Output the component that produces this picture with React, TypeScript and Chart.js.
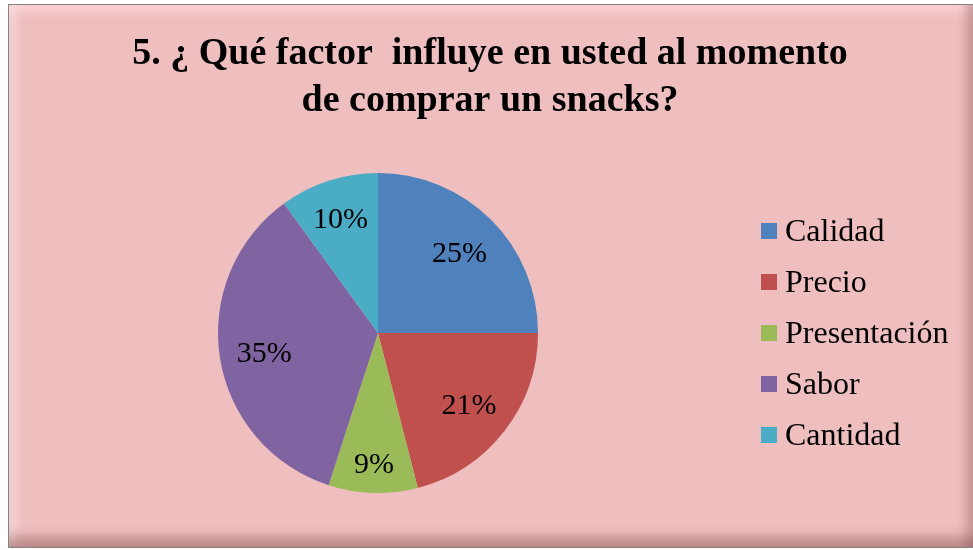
import React, { useEffect, useRef } from "react";
import { Chart, registerables } from "chart.js";

Chart.register(...registerables);

const titleLines = ["5. ¿ Qué factor  influye en usted al momento", "de comprar un snacks?"];
const categories = ["Calidad", "Precio", "Presentación", "Sabor", "Cantidad"];
const percentages = [25, 21, 9, 35, 10];
const sliceColors = ["#4F81BD", "#C0504D", "#9BBB59", "#8064A2", "#4BACC6"];

const FONT = "'Liberation Serif', 'Times New Roman', serif";

const overlayPlugin = {
  id: "overlay",
  afterDraw(chart: any) {
    const ctx = chart.ctx;
    ctx.save();
    // Title
    ctx.fillStyle = "#000";
    ctx.textAlign = "center";
    ctx.textBaseline = "middle";
    ctx.font = `bold 38px ${FONT}`;
    titleLines.forEach((line, i) => ctx.fillText(line, 490, 54 + i * 47));

    // Data labels
    const meta = chart.getDatasetMeta(0);
    ctx.font = `30px ${FONT}`;
    meta.data.forEach((arc: any, i: number) => {
      const { x, y, startAngle, endAngle, outerRadius } = arc.getProps(
        ["x", "y", "startAngle", "endAngle", "outerRadius"],
        true
      );
      const mid = (startAngle + endAngle) / 2;
      const frac = (endAngle - startAngle) / (2 * Math.PI);
      const f = frac < 0.095 ? 0.81 : frac < 0.12 ? 0.76 : 0.72;
      const r = outerRadius * f;
      ctx.fillText(percentages[i] + "%", x + Math.cos(mid) * r, y + Math.sin(mid) * r + 3);
    });

    // Legend
    ctx.textAlign = "left";
    ctx.font = `32px ${FONT}`;
    categories.forEach((c, i) => {
      const cy = 231 + i * 51;
      ctx.fillStyle = sliceColors[i];
      ctx.fillRect(761, cy - 8, 16, 16);
      ctx.fillStyle = "#000";
      ctx.fillText(c, 785, cy + 2);
    });
    ctx.restore();
  },
};

export default function App() {
  const ref = useRef<HTMLCanvasElement | null>(null);
  useEffect(() => {
    if (!ref.current) return;
    const chart = new Chart(ref.current, {
      type: "pie",
      data: {
        labels: categories,
        datasets: [
          {
            data: percentages,
            backgroundColor: sliceColors,
            borderWidth: 0,
          },
        ],
      },
      options: {
        responsive: false,
        animation: false,
        layout: { padding: { left: 218, right: 435, top: 173, bottom: 57 } },
        plugins: {
          legend: { display: false },
          title: { display: false },
          tooltip: { enabled: false },
        },
      },
      plugins: [overlayPlugin],
    });
    return () => chart.destroy();
  }, []);

  return (
    <div style={{ position: "fixed", left: 0, top: 0, width: 973, height: 550, overflow: "hidden", background: "#fff" }}>
      <div
        style={{
          position: "absolute",
          left: 8,
          top: 4,
          width: 967,
          height: 544,
          boxSizing: "border-box",
          border: "1px solid #8a8080",
          background: "#EFBEBE",
          boxShadow:
            "inset 0 -18px 12px -8px rgba(110,60,60,0.4), inset -16px 0 10px -8px rgba(110,60,60,0.3), inset 16px 0 10px -8px rgba(255,235,235,0.45), inset 0 16px 10px -8px rgba(255,225,225,0.5)",
        }}
      />
      <canvas ref={ref} width={973} height={550} style={{ position: "absolute", left: 0, top: 0 }} />
    </div>
  );
}
